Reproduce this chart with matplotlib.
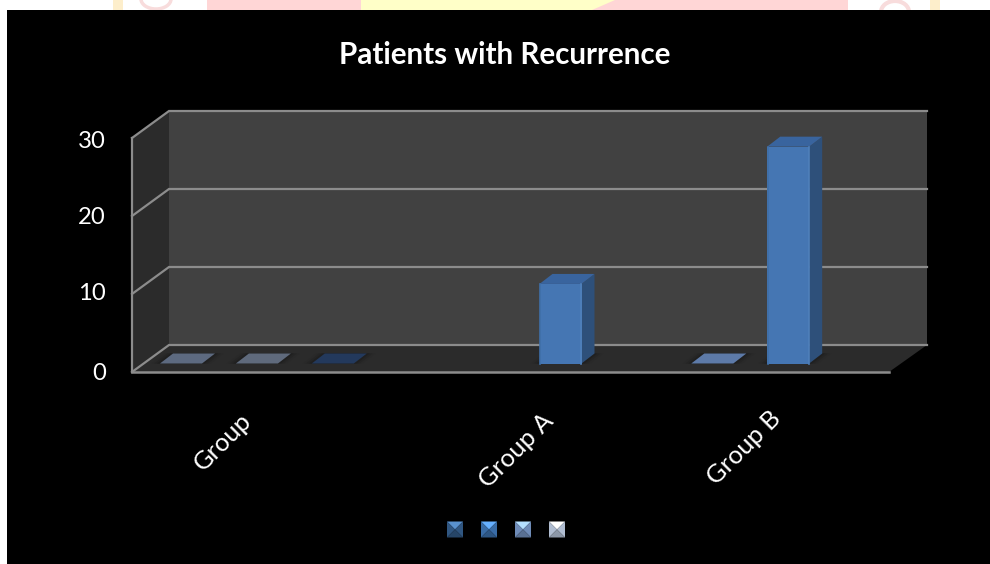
import numpy as np
import matplotlib
matplotlib.use("Agg")
import matplotlib.pyplot as plt
from matplotlib.patches import Polygon, Rectangle, Ellipse

plt.rcParams["font.family"] = ["Lato", "DejaVu Sans"]

TITLE = "Patients with Recurrence"
CATEGORIES = ["Group", "Group A", "Group B"]
AXIS_TICKS = [0, 10, 20, 30]
# One entry per bar slot along the floor; nan means no bar in that slot.
SLOT_VALUES = [0, 0, 0, np.nan, np.nan, 10.2, np.nan, 0, 27.8]
SLOT_COLORS = ["#5d6a80", "#5f6a7c", "#23395c", None, None, "#4576b3", None, "#5d7aa8", "#4576b3"]
LEGEND_COLORS = ["#35608f", "#3f78b8", "#7b9ccc", "#c3d2e8"]

W, H = 990, 564
fig = plt.figure(figsize=(W / 100, H / 100), dpi=100, facecolor="white")
ax = fig.add_axes([0, 0, 1, 1])
ax.set_xlim(0, W)
ax.set_ylim(H, 0)
ax.axis("off")

# Chart geometry in pixels
FRONT_L, FRONT_R, FRONT_0 = 132, 889, 372
DX, DY = 37, -27
UNIT = 7.8
BAR_BASE, BAR_W, SLOT0, SLOT_STEP = 363.5, 42, 160, 75.9
BAR_DX, BAR_DY = 13, -10


def poly(pts, color, z=2, **kw):
    ax.add_patch(Polygon(pts, closed=True, facecolor=color, edgecolor="none", zorder=z, **kw))


def front_y(v):
    return FRONT_0 - v * UNIT


def bar_top(v):
    return BAR_BASE - v * UNIT


# Strip of the slide background above the chart panel
ax.add_patch(Rectangle((0, 0), W, 10, fc="white", ec="none", zorder=0))
ax.add_patch(Rectangle((113, 0), 10, 10, fc="#fdeecb", ec="none", zorder=0))
ax.add_patch(Rectangle((930, 0), 10, 10, fc="#fdeecb", ec="none", zorder=0))
ax.add_patch(Rectangle((207, 0), 641, 10, fc="#ffd6d6", ec="none", zorder=0))
poly([(361, 0), (615, 0), (592, 10), (361, 10)], "#ffffc8", z=0.5)
ax.add_patch(Ellipse((156, -1), 30, 20, fc="none", ec="#f8dcdc", lw=2.5, zorder=0.6))
ax.add_patch(Ellipse((895, 12), 28, 22, fc="none", ec="#f8dcdc", lw=3, zorder=0.6))

# Black chart panel
ax.add_patch(Rectangle((7, 10), W - 7, H - 10, fc="black", ec="none", zorder=1))

back_0 = front_y(0) + DY
back_top = front_y(30) + DY
BACK_L, BACK_R = FRONT_L + DX, FRONT_R + DX + 1

# Walls and floor
poly([(BACK_L, back_top), (BACK_R, back_top), (BACK_R, back_0), (BACK_L, back_0)], "#414141")
poly([(FRONT_L, front_y(30)), (BACK_L, back_top), (BACK_L, back_0), (FRONT_L, front_y(0))], "#2b2b2b")
poly([(FRONT_L, front_y(0)), (BACK_L, back_0), (BACK_R, back_0), (FRONT_R, front_y(0))], "#2b2b2b")

# Gridlines run across the side wall and the back wall
grid = "#8c8c8c"
for t in AXIS_TICKS:
    y = front_y(t)
    ax.plot([FRONT_L, BACK_L, BACK_R], [y, y + DY, y + DY], color=grid, lw=1.6, zorder=3,
            solid_joinstyle="miter")
ax.plot([FRONT_L, FRONT_L], [front_y(30), front_y(0)], color=grid, lw=1.6, zorder=3)
ax.plot([FRONT_L, FRONT_R], [front_y(0), front_y(0)], color=grid, lw=1.8, zorder=3)

# Bars: a soft floor shadow, then the front, side and top faces
for i, (v, c) in enumerate(zip(SLOT_VALUES, SLOT_COLORS)):
    if np.isnan(v):
        continue
    x0 = SLOT0 + i * SLOT_STEP
    x1 = x0 + BAR_W
    top = bar_top(v)
    for grow, shade in ((9, "#292929"), (6, "#252525"), (3, "#202020")):
        poly([(x0 - grow, BAR_BASE), (x1 + grow, BAR_BASE),
              (x1 + BAR_DX + grow, BAR_BASE + BAR_DY), (x0 + BAR_DX - grow, BAR_BASE + BAR_DY)],
             shade, z=3.5)
    if v == 0:
        poly([(x0, BAR_BASE), (x1, BAR_BASE), (x1 + BAR_DX, BAR_BASE + BAR_DY),
              (x0 + BAR_DX, BAR_BASE + BAR_DY)], c, z=5)
        continue
    r, g, b = matplotlib.colors.to_rgb(c)
    side = (r * 0.66, g * 0.68, b * 0.68)
    lid = (r * 0.82, g * 0.85, b * 0.88)
    poly([(x1, top), (x1 + BAR_DX, top + BAR_DY), (x1 + BAR_DX, BAR_BASE + BAR_DY), (x1, BAR_BASE)], side, z=5)
    poly([(x0, top), (x1, top), (x1 + BAR_DX, top + BAR_DY), (x0 + BAR_DX, top + BAR_DY)], lid, z=5)
    poly([(x0, top), (x1, top), (x1, BAR_BASE), (x0, BAR_BASE)], c, z=6)
    ax.plot([x0 + 0.5, x0 + 0.5], [top, BAR_BASE], color="#3f6fa8", lw=1.2, zorder=7)
    ax.plot([x1 - 0.5, x1 - 0.5], [top, BAR_BASE], color="#4f80bb", lw=1.2, zorder=7)

# Text
ax.text(505, 55, TITLE, color="white", fontsize=21.3, fontweight="bold", ha="center", va="center", zorder=8)
for t, yc in zip(AXIS_TICKS, [374, 293, 217, 141]):
    ax.text(106, yc, str(t), color="white", fontsize=17.2, ha="right", va="center", zorder=8)
for label, (xe, ye) in zip(CATEGORIES, [(239, 409), (541, 409), (769, 407)]):
    ax.text(xe, ye, label, color="white", fontsize=18.3, rotation=45, rotation_mode="anchor",
            ha="right", va="top", zorder=8)

# Legend keys drawn as small bevelled pyramids
for x, c in zip([447, 481, 515, 549], LEGEND_COLORS):
    s = 16
    y = 521.5
    cx, cy = x + s / 2, y + s / 2
    col = np.array(matplotlib.colors.to_rgb(c))
    lit = np.clip(col * 1.3 + 0.08, 0, 1)
    poly([(x, y), (x + s, y), (cx, cy)], lit, z=8)
    poly([(x, y), (cx, cy), (x, y + s)], col * 0.9, z=8)
    poly([(x + s, y), (cx, cy), (x + s, y + s)], col * 0.9, z=8)
    poly([(x, y + s), (x + s, y + s), (cx, cy)], col * 0.72, z=8)

fig.savefig("out.png", dpi=100, facecolor="white")
